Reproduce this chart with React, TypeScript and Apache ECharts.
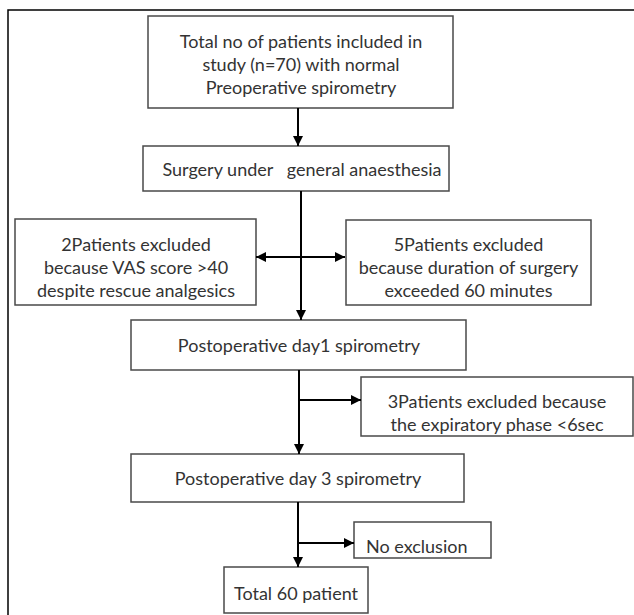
import React, { useEffect, useRef } from "react";
import * as echarts from "echarts";

// Flowchart content
const boxLabels: string[] = [
  "Total no of patients included in\nstudy (n=70) with normal\nPreoperative spirometry",
  "Surgery under   general anaesthesia",
  "2Patients excluded\nbecause VAS score >40\ndespite rescue analgesics",
  "5Patients excluded\nbecause duration of surgery\nexceeded 60 minutes",
  "Postoperative day1 spirometry",
  "3Patients excluded because\nthe expiratory phase <6sec",
  "Postoperative day 3 spirometry",
  "No exclusion",
  "Total 60 patient",
];

// Layout: [x, y, width, height]
const boxRects: number[][] = [
  [148, 16, 305, 92],
  [143, 146, 306, 45],
  [15, 219, 241, 86],
  [346, 220, 245, 85],
  [131, 320, 335, 50],
  [361, 377, 272, 59],
  [131, 454, 333, 48],
  [354, 522, 137, 36],
  [224, 567, 144, 46],
];

// text anchor [x, y, align]
const textPos: [number, number, string][] = [
  [301, 64, "center"],
  [302, 169, "center"],
  [136, 266.5, "center"],
  [468.5, 267, "center"],
  [299, 345, "center"],
  [497, 412, "center"],
  [298, 478, "center"],
  [366, 546, "left"],
  [296, 593, "center"],
];

// Connectors: [x1, y1, x2, y2, arrowAtEnd, arrowAtStart]
const connectors: [number, number, number, number, boolean, boolean][] = [
  [298, 108, 298, 146, true, false],
  [301, 191, 301, 320, true, false],
  [256, 257, 345, 257, true, true],
  [299, 370, 299, 454, true, false],
  [299, 400, 361, 400, true, false],
  [298, 502, 298, 567, true, false],
  [298, 543, 354, 543, true, false],
];

const FONT = "Lato, 'Open Sans', sans-serif";

function arrowHead(x1: number, y1: number, x2: number, y2: number) {
  const L = 10;
  const W = 5;
  const dx = x2 - x1;
  const dy = y2 - y1;
  const len = Math.sqrt(dx * dx + dy * dy) || 1;
  const ux = dx / len;
  const uy = dy / len;
  const bx = x2 - ux * L;
  const by = y2 - uy * L;
  return {
    type: "polygon",
    shape: {
      points: [
        [x2, y2],
        [bx - uy * W, by + ux * W],
        [bx + uy * W, by - ux * W],
      ],
    },
    style: { fill: "#000" },
    silent: true,
  };
}

export default function App() {
  const ref = useRef<HTMLDivElement>(null);
  useEffect(() => {
    if (!ref.current) return;
    const chart = echarts.init(ref.current, null, { renderer: "svg" });
    const elements: any[] = [];
    // outer frame
    elements.push({
      type: "rect",
      shape: { x: 8, y: 10, width: 640, height: 640 },
      style: { fill: "#fff", stroke: "#000", lineWidth: 1.5 },
      silent: true,
    });
    boxRects.forEach((r, i) => {
      elements.push({
        type: "rect",
        shape: { x: r[0], y: r[1], width: r[2], height: r[3] },
        style: { fill: "#fff", stroke: "#4a4a4a", lineWidth: 1.5 },
        silent: true,
      });
      const p = textPos[i];
      elements.push({
        type: "text",
        x: p[0],
        y: p[1],
        style: {
          text: boxLabels[i],
          fill: "#333",
          fontSize: 18,
          fontFamily: FONT,
          align: p[2],
          verticalAlign: "middle",
          lineHeight: 23,
        },
        silent: true,
      });
    });
    connectors.forEach((c) => {
      const [x1, y1, x2, y2, endA, startA] = c;
      elements.push({
        type: "line",
        shape: { x1, y1, x2, y2 },
        style: { stroke: "#000", lineWidth: 2 },
        silent: true,
      });
      if (endA) elements.push(arrowHead(x1, y1, x2, y2));
      if (startA) elements.push(arrowHead(x2, y2, x1, y1));
    });
    chart.setOption({
      animation: false,
      backgroundColor: "#fff",
      graphic: { elements },
    });
    return () => chart.dispose();
  }, []);
  return (
    <div
      ref={ref}
      style={{ width: 634, height: 615, position: "absolute", left: 0, top: 0 }}
    />
  );
}
